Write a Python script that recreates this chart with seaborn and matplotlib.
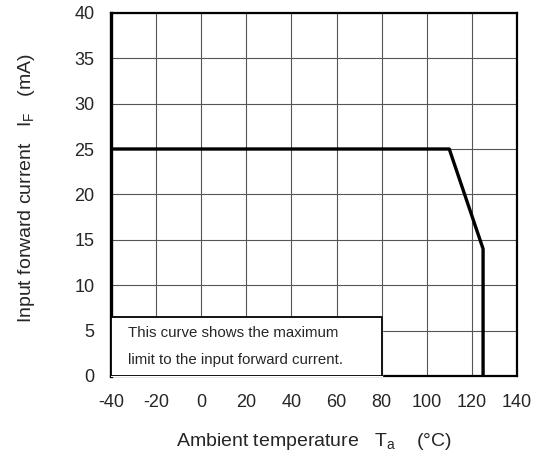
import seaborn as sns
import matplotlib.pyplot as plt
import pandas as pd

# derating curve: ambient temperature (°C) vs max input forward current (mA)
temps = [-40, 110, 125, 125]
currents = [25, 25, 14, 0]

x_ticks = [-40, -20, 0, 20, 40, 60, 80, 100, 120, 140]
y_ticks = [0, 5, 10, 15, 20, 25, 30, 35, 40]

note_lines = ['This curve shows the maximum', 'limit to the input forward current.']

sns.set_style('white')
plt.rcParams['font.family'] = ['Liberation Sans', 'DejaVu Sans']
plt.rcParams['mathtext.fontset'] = 'custom'
plt.rcParams['mathtext.rm'] = 'Liberation Sans'
plt.rcParams['axes.unicode_minus'] = False

fig = plt.figure(figsize=(5.39, 4.59), dpi=100)
ax = fig.add_axes([0.206, 0.181, 0.753, 0.791])

df = pd.DataFrame(dict(temp=temps, current=currents))
sns.lineplot(data=df, x='temp', y='current', sort=False, estimator=None,
             color='black', linewidth=2.4, ax=ax, zorder=3)

ax.set_xlim(-40, 140)
ax.set_ylim(0, 40)
ax.set_xticks(x_ticks)
ax.set_yticks(y_ticks)
ax.grid(True, color='#555555', linewidth=0.8)
ax.tick_params(axis='x', length=0, labelsize=13, pad=13)
ax.tick_params(axis='y', length=0, labelsize=13, pad=12)
for s in ax.spines.values():
  s.set_color('black')
  s.set_linewidth(1.6)
ax.spines['left'].set_linewidth(2.4)

ax.set_xlabel(r'Ambient temperature   $\mathrm{T_a}$    (°C)', fontsize=14)
ax.set_ylabel(r'Input forward current   $\mathrm{I_F}$   (mA)', fontsize=14)
ax.xaxis.set_label_coords(0.499, -0.152)
ax.yaxis.set_label_coords(-0.182, 0.5165)

# note box in the lower-left corner
box_df = pd.DataFrame(dict(x=[-40, 80, 80, -40, -40], y=[0, 0, 6.5, 6.5, 0]))
ax.fill_between([-40, 80], 0, 6.5, color='white', zorder=4)
sns.lineplot(data=box_df, x='x', y='y', sort=False, estimator=None,
             color='black', linewidth=1.3, ax=ax, zorder=5)
ax.text(-32.5, 4.74, note_lines[0], fontsize=10.8, va='center', ha='left', zorder=6)
ax.text(-32.5, 1.76, note_lines[1], fontsize=10.8, va='center', ha='left', zorder=6)

plt.savefig('out.png', dpi=100)
